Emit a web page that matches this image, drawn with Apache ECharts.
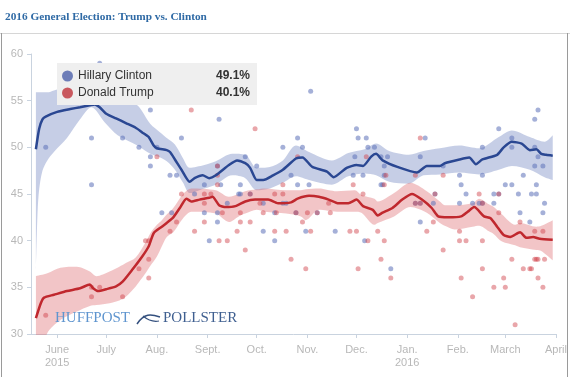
<!DOCTYPE html>
<html>
<head>
<meta charset="utf-8">
<script src="https://cdn.jsdelivr.net/npm/echarts@6/dist/echarts.min.js"></script>
<style>
html,body{margin:0;padding:0;background:#fff;}
#chart{width:570px;height:377px;}
</style>
</head>
<body>
<div id="chart"></div>
<script>
// ---------- data ----------
const titleText = '2016 General Election: Trump vs. Clinton';
const seriesNames = ['Hillary Clinton', 'Donald Trump'];
const latestValues = ['49.1%', '40.1%'];

const axisStart = '2015-05-16';
const axisEnd = '2016-04-01';
const monthTickDates = ['2015-06-01','2015-07-01','2015-08-01','2015-09-01','2015-10-01','2015-11-01','2015-12-01','2016-01-01','2016-02-01','2016-03-01','2016-04-01'];
const monthTickLabels = ['June\n2015','July','Aug.','Sept.','Oct.','Nov.','Dec.','Jan.\n2016','Feb.','March','April'];

// Clinton trend line
const clintonDates = ['2015-05-19','2015-05-21','2015-05-23','2015-05-25','2015-06-01','2015-06-09','2015-06-15','2015-06-21','2015-06-24','2015-06-27','2015-07-01','2015-07-07','2015-07-13','2015-07-19','2015-07-23','2015-07-27','2015-07-30','2015-08-01','2015-08-07','2015-08-09','2015-08-12','2015-08-16','2015-08-21','2015-08-24','2015-08-29','2015-09-02','2015-09-06','2015-09-14','2015-09-19','2015-09-24','2015-09-27','2015-10-01','2015-10-05','2015-10-11','2015-10-17','2015-10-25','2015-10-29','2015-11-04','2015-11-13','2015-11-17','2015-11-25','2015-12-01','2015-12-05','2015-12-10','2015-12-13','2015-12-17','2015-12-26','2016-01-07','2016-01-13','2016-01-21','2016-01-24','2016-02-02','2016-02-08','2016-02-12','2016-02-16','2016-02-25','2016-02-29','2016-03-05','2016-03-11','2016-03-16','2016-03-20','2016-03-23','2016-03-26','2016-03-30'];
const clintonValues = [49.8,52.0,53.0,53.3,53.8,54.1,54.3,54.5,54.6,54.3,53.6,53.1,52.6,52.1,51.6,51.1,50.2,49.9,49.7,49.5,48.7,47.6,46.3,46.7,47.0,46.7,47.0,48.1,48.6,48.3,47.8,46.5,46.5,47.0,47.6,48.8,48.9,47.9,47.4,46.8,47.8,48.1,48.0,49.0,49.3,48.6,47.9,47.3,48.0,48.0,48.3,48.7,48.9,48.2,48.7,49.2,50.0,50.6,50.4,49.7,49.8,49.3,49.2,49.1];

// Clinton uncertainty band
const clintonBandDates = ['2015-05-19','2015-05-20','2015-05-21','2015-05-23','2015-05-26','2015-05-30','2015-06-07','2015-06-15','2015-06-22','2015-06-30','2015-07-08','2015-07-20','2015-07-28','2015-08-03','2015-08-07','2015-08-12','2015-08-17','2015-08-21','2015-08-30','2015-09-06','2015-09-16','2015-09-24','2015-10-01','2015-10-09','2015-10-17','2015-10-25','2015-11-02','2015-11-16','2015-11-26','2015-12-06','2015-12-13','2015-12-21','2016-01-02','2016-01-11','2016-01-21','2016-02-02','2016-02-14','2016-02-26','2016-03-05','2016-03-16','2016-03-25','2016-03-30'];
const clintonLow  = [37.0,43.0,45.5,47.5,48.6,49.5,51.0,53.0,54.3,52.7,51.3,50.2,49.3,48.9,48.5,47.6,46.2,45.1,45.6,46.0,47.0,46.7,45.4,45.6,46.2,46.9,46.5,46.0,46.9,47.2,47.0,46.3,46.1,47.0,47.1,47.3,47.1,47.6,48.0,47.6,46.8,46.5];
const clintonHigh = [55.9,55.9,55.9,55.9,55.9,56.1,56.5,56.8,55.0,56.0,55.6,54.5,52.5,51.6,51.0,50.3,48.8,47.8,48.1,48.5,49.3,49.2,47.8,47.9,48.6,50.2,49.5,48.6,49.4,49.8,50.4,49.6,49.2,49.6,49.9,50.2,49.9,51.1,51.8,51.1,50.6,51.3];

// Trump trend line
const trumpDates = ['2015-05-19','2015-05-22','2015-05-24','2015-05-30','2015-06-07','2015-06-15','2015-06-21','2015-06-23','2015-06-26','2015-07-01','2015-07-07','2015-07-11','2015-07-17','2015-07-23','2015-07-27','2015-07-30','2015-08-04','2015-08-07','2015-08-11','2015-08-15','2015-08-19','2015-08-22','2015-08-27','2015-09-02','2015-09-04','2015-09-08','2015-09-12','2015-09-18','2015-09-24','2015-09-30','2015-10-08','2015-10-14','2015-10-22','2015-10-26','2015-11-02','2015-11-08','2015-11-14','2015-11-20','2015-11-26','2015-12-01','2015-12-05','2015-12-11','2015-12-14','2015-12-17','2015-12-23','2015-12-29','2016-01-04','2016-01-10','2016-01-16','2016-01-20','2016-01-26','2016-02-03','2016-02-07','2016-02-11','2016-02-17','2016-02-21','2016-02-25','2016-02-29','2016-03-04','2016-03-10','2016-03-14','2016-03-18','2016-03-22','2016-03-30'];
const trumpValues = [31.7,33.3,33.9,34.2,34.6,34.9,35.3,34.9,34.6,34.8,35.1,35.6,36.9,38.3,39.4,40.8,41.5,41.9,42.5,43.5,44.5,44.2,44.4,44.6,44.7,43.8,43.6,43.7,44.2,44.4,44.4,44.0,44.1,44.5,44.8,44.7,44.4,44.0,44.0,44.4,43.7,43.3,42.7,43.0,43.5,44.4,45.0,44.4,43.5,42.6,42.5,42.6,43.1,43.6,42.6,42.4,41.5,40.6,40.4,40.9,40.3,40.4,40.2,40.1];

// Trump uncertainty band
const trumpBandDates = ['2015-05-19','2015-05-26','2015-06-03','2015-06-13','2015-06-21','2015-06-25','2015-07-03','2015-07-09','2015-07-13','2015-07-19','2015-07-25','2015-07-28','2015-08-01','2015-08-04','2015-08-07','2015-08-11','2015-08-17','2015-08-22','2015-09-06','2015-09-14','2015-09-20','2015-09-24','2015-10-01','2015-10-06','2015-10-19','2015-10-28','2015-10-31','2015-11-08','2015-11-19','2015-11-30','2015-12-04','2015-12-12','2015-12-14','2015-12-24','2016-01-03','2016-01-13','2016-01-21','2016-01-24','2016-01-30','2016-02-10','2016-02-14','2016-02-20','2016-02-23','2016-02-28','2016-03-07','2016-03-10','2016-03-20','2016-03-23','2016-03-30'];
const trumpLow  = [26.0,30.1,31.5,32.4,33.0,33.1,33.3,33.6,34.0,35.1,36.5,37.3,38.3,39.4,40.4,40.9,42.4,43.1,42.9,42.0,42.6,42.9,43.3,43.1,42.9,42.6,42.2,43.3,43.1,43.1,43.0,41.7,41.9,42.6,43.6,43.0,41.9,41.6,41.2,41.5,41.6,41.0,40.7,39.9,39.5,39.3,39.0,38.9,37.9];
const trumpHigh = [36.2,36.5,37.1,37.2,36.7,36.2,36.7,37.2,37.6,38.2,39.8,40.8,41.7,42.2,42.8,43.5,45.0,45.6,45.4,44.7,45.0,45.3,45.5,45.6,45.4,45.4,45.5,45.6,45.3,45.4,44.9,44.5,44.2,45.1,46.2,45.3,44.2,43.8,43.8,44.0,44.5,43.9,43.6,42.8,41.7,41.9,41.5,41.6,42.2];

// Individual polls
const clintonPolls = [['2015-05-25',50],['2015-06-22',51],['2015-06-22',46],['2015-06-27',59],['2015-07-11',51],['2015-07-21',50],['2015-07-28',54],['2015-07-28',49],['2015-07-28',48],['2015-08-01',50],['2015-08-04',43],['2015-08-09',47],['2015-08-10',43],['2015-08-13',47],['2015-08-16',51],['2015-08-24',45],['2015-08-30',46],['2015-08-30',43],['2015-09-02',40],['2015-09-07',48],['2015-09-07',43],['2015-09-07',42],['2015-09-08',53],['2015-09-09',46],['2015-09-13',44],['2015-09-20',45],['2015-09-21',46],['2015-09-21',45],['2015-09-24',49],['2015-09-27',45],['2015-10-01',48],['2015-10-05',41],['2015-10-05',44],['2015-10-12',40],['2015-10-12',43],['2015-10-17',50],['2015-10-17',44],['2015-10-19',44],['2015-10-22',47],['2015-10-25',43],['2015-10-26',51],['2015-10-26',46],['2015-10-29',50],['2015-10-31',41],['2015-11-02',46],['2015-11-03',56],['2015-11-07',43],['2015-11-18',41],['2015-11-29',47],['2015-11-30',49],['2015-12-01',52],['2015-12-02',51],['2015-12-05',47],['2015-12-06',40],['2015-12-07',51],['2015-12-08',50],['2015-12-12',50],['2015-12-16',46],['2015-12-16',49],['2015-12-17',46],['2015-12-18',48],['2015-12-18',47],['2015-12-20',49],['2015-12-22',37],['2016-01-06',44],['2016-01-09',49],['2016-01-09',44],['2016-01-09',42],['2016-01-12',51],['2016-01-17',44],['2016-01-18',45],['2016-01-23',48],['2016-02-02',47],['2016-02-02',44],['2016-02-03',46],['2016-02-06',45],['2016-02-10',44],['2016-02-14',44],['2016-02-16',50],['2016-02-16',47],['2016-02-16',44],['2016-02-23',45],['2016-02-23',44],['2016-02-26',52],['2016-02-26',45],['2016-03-01',46],['2016-03-05',51],['2016-03-05',50],['2016-03-05',46],['2016-03-09',45],['2016-03-10',43],['2016-03-12',47],['2016-03-16',42],['2016-03-17',45],['2016-03-19',53],['2016-03-19',50],['2016-03-19',48],['2016-03-20',46],['2016-03-20',45],['2016-03-21',54],['2016-03-21',49],['2016-03-24',48],['2016-03-24',43],['2016-03-25',44]];
const trumpPolls = [['2015-05-25',32],['2015-06-22',35],['2015-06-22',34],['2015-06-27',35],['2015-07-11',34],['2015-07-21',37],['2015-07-25',40],['2015-07-27',40],['2015-07-27',38],['2015-07-27',36],['2015-08-01',49],['2015-08-09',41],['2015-08-13',42],['2015-08-16',45],['2015-08-22',54],['2015-08-24',41],['2015-08-30',45],['2015-08-30',44],['2015-08-30',42],['2015-09-03',45],['2015-09-07',48],['2015-09-07',47],['2015-09-07',46],['2015-09-08',40],['2015-09-10',43],['2015-09-13',40],['2015-09-19',41],['2015-09-21',43],['2015-09-21',42],['2015-09-24',39],['2015-09-27',45],['2015-09-27',42],['2015-09-30',52],['2015-10-03',44],['2015-10-05',43],['2015-10-12',45],['2015-10-12',41],['2015-10-13',43],['2015-10-17',46],['2015-10-17',45],['2015-10-19',41],['2015-10-22',38],['2015-10-25',43],['2015-10-26',49],['2015-10-29',42],['2015-10-31',37],['2015-11-01',43],['2015-11-03',41],['2015-11-07',43],['2015-11-14',44],['2015-11-15',43],['2015-11-27',41],['2015-11-29',46],['2015-12-01',41],['2015-12-02',37],['2015-12-05',45],['2015-12-07',49],['2015-12-08',40],['2015-12-14',41],['2015-12-16',38],['2015-12-18',46],['2015-12-18',40],['2015-12-19',47],['2015-12-22',36],['2016-01-06',47],['2016-01-06',44],['2016-01-09',51],['2016-01-09',44],['2016-01-13',41],['2016-01-17',42],['2016-01-18',45],['2016-01-23',47],['2016-01-23',39],['2016-02-02',41],['2016-02-02',40],['2016-02-03',36],['2016-02-06',40],['2016-02-10',34],['2016-02-14',45],['2016-02-16',44],['2016-02-16',40],['2016-02-16',37],['2016-02-23',35],['2016-02-26',45],['2016-02-26',43],['2016-02-29',36],['2016-03-01',35],['2016-03-05',38],['2016-03-07',31],['2016-03-10',42],['2016-03-12',37],['2016-03-16',37],['2016-03-17',37],['2016-03-19',41],['2016-03-19',38],['2016-03-20',38],['2016-03-21',38],['2016-03-21',36],['2016-03-24',41],['2016-03-24',35],['2016-03-25',38]];

// ---------- build ----------
function dayList(a, b) {
  const out = [];
  const pa = a.split('-').map(Number), pb = b.split('-').map(Number);
  let t = Date.UTC(pa[0], pa[1] - 1, pa[2]);
  const e = Date.UTC(pb[0], pb[1] - 1, pb[2]);
  while (t <= e) { out.push(new Date(t).toISOString().slice(0, 10)); t += 86400000; }
  return out;
}
const categories = dayList(axisStart, axisEnd);
const zip = (xs, ys) => xs.map((x, i) => [x, ys[i]]);
const diff = (hi, lo) => hi.map((h, i) => +(h - lo[i]).toFixed(2));

const C_LINE = '#2a4792', T_LINE = '#c0282e';
const C_BAND = 'rgba(128,146,200,0.45)', T_BAND = 'rgba(218,95,100,0.36)';
const C_DOT = 'rgba(95,115,185,0.7)', T_DOT = 'rgba(210,70,78,0.6)';
const AXIS = '#c9d3df', LABEL = '#b8b8b8';

function bandSeries(id, dates, lo, hi, color) {
  return [
    { type: 'line', name: id + '-lo', stack: id, data: zip(dates, lo), symbol: 'none', smooth: 0.3,
      lineStyle: { opacity: 0 }, silent: true, z: 1 },
    { type: 'line', name: id + '-band', stack: id, data: zip(dates, diff(hi, lo)), symbol: 'none', smooth: 0.3,
      lineStyle: { opacity: 0 }, areaStyle: { color: color, opacity: 1 }, silent: true, z: 1 }
  ];
}

const chart = echarts.init(document.getElementById('chart'), null, { renderer: 'canvas' });
chart.setOption({
  animation: false,
  title: {
    text: titleText, left: 5, top: 12, padding: 0,
    textStyle: { fontFamily: 'Liberation Serif', fontWeight: 'bold', fontSize: 11.3, color: '#2f6aa5' }
  },
  grid: { left: 31, right: 14, top: 54, bottom: 43 },
  legend: {
    left: 57, top: 63, orient: 'vertical', icon: 'circle', itemWidth: 11, itemHeight: 11, itemGap: 3,
    backgroundColor: '#efefef', padding: [6, 7, 5, 5], selectedMode: false,
    data: [
      { name: seriesNames[0], itemStyle: { color: '#6d7db8' } },
      { name: seriesNames[1], itemStyle: { color: '#c9585e' } }
    ],
    formatter: function (name) { return '{n|' + name + '}{v|' + latestValues[seriesNames.indexOf(name)] + '}'; },
    textStyle: {
      lineHeight: 14,
      rich: {
        n: { width: 136, fontSize: 12, color: '#333', fontFamily: 'Liberation Sans', lineHeight: 14 },
        v: { width: 36, align: 'right', fontSize: 12, fontWeight: 'bold', color: '#333', fontFamily: 'Liberation Sans', lineHeight: 14 }
      }
    }
  },
  xAxis: {
    type: 'category', data: categories, boundaryGap: false,
    axisLine: { lineStyle: { color: AXIS, width: 1 } },
    axisTick: { length: 4, lineStyle: { color: AXIS }, interval: function (i, v) { return monthTickDates.indexOf(v) >= 0; } },
    axisLabel: {
      interval: function (i, v) { return monthTickDates.indexOf(v) >= 0; },
      formatter: function (v) { const k = monthTickDates.indexOf(v); return k >= 0 ? monthTickLabels[k] : ''; },
      color: LABEL, fontSize: 11, fontFamily: 'Liberation Sans', lineHeight: 13, margin: 9, hideOverlap: false
    },
    splitLine: { show: false }
  },
  yAxis: {
    type: 'value', min: 30, max: 60, interval: 5,
    axisLine: { show: true, lineStyle: { color: AXIS, width: 1 } },
    axisTick: { show: true, length: 4, lineStyle: { color: AXIS } },
    axisLabel: { color: LABEL, fontSize: 11, fontFamily: 'Liberation Sans', margin: 8 },
    splitLine: { show: false }
  },
  graphic: [
    { type: 'line', shape: { x1: 0, y1: 33.5, x2: 570, y2: 33.5 }, style: { stroke: '#d6d6d6', lineWidth: 1 }, silent: true },
    { type: 'line', shape: { x1: 1.5, y1: 33, x2: 1.5, y2: 377 }, style: { stroke: '#9a9a9a', lineWidth: 1 }, silent: true },
    { type: 'line', shape: { x1: 567.5, y1: 33, x2: 567.5, y2: 377 }, style: { stroke: '#9a9a9a', lineWidth: 1 }, silent: true },
    { type: 'text', left: 55, top: 311, z: 20, style: { text: 'HUFFPOST', fill: '#5f95cf', font: '15px "Liberation Serif"' }, silent: true },
    { type: 'bezierCurve', z: 20, shape: { x1: 137, y1: 324, cpx1: 144, cpy1: 313, cpx2: 151, cpy2: 314, x2: 160, y2: 317 }, style: { stroke: '#34507e', lineWidth: 1.5, fill: null }, silent: true },
    { type: 'bezierCurve', z: 20, shape: { x1: 143, y1: 316, cpx1: 149, cpy1: 321, cpx2: 154, cpy2: 322, x2: 159, y2: 321 }, style: { stroke: '#34507e', lineWidth: 1.2, fill: null }, silent: true },
    { type: 'text', left: 163, top: 311, z: 20, style: { text: 'POLLSTER', fill: '#3f5f90', font: '15px "Liberation Serif"' }, silent: true }
  ],
  series: [].concat(
    bandSeries('cband', clintonBandDates, clintonLow, clintonHigh, C_BAND),
    bandSeries('tband', trumpBandDates, trumpLow, trumpHigh, T_BAND),
    [
      { type: 'scatter', name: 'clinton-polls', data: clintonPolls, symbolSize: 5, itemStyle: { color: C_DOT }, z: 2, silent: true },
      { type: 'scatter', name: 'trump-polls', data: trumpPolls, symbolSize: 5, itemStyle: { color: T_DOT }, z: 2, silent: true },
      { type: 'line', name: seriesNames[0], data: zip(clintonDates, clintonValues), symbol: 'none', smooth: 0.2,
        lineStyle: { color: C_LINE, width: 2.5 }, itemStyle: { color: '#6d7db8' }, z: 3 },
      { type: 'line', name: seriesNames[1], data: zip(trumpDates, trumpValues), symbol: 'none', smooth: 0.2,
        lineStyle: { color: T_LINE, width: 2.5 }, itemStyle: { color: '#c9585e' }, z: 3 }
    ]
  )
});
</script>
</body>
</html>
